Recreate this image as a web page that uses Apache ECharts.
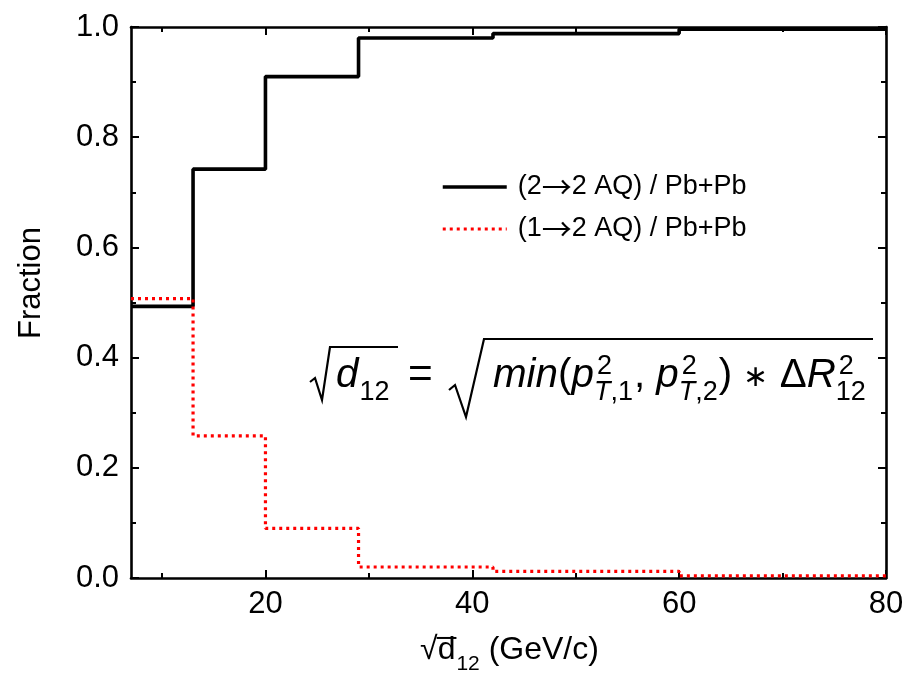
<!DOCTYPE html>
<html><head><meta charset="utf-8">
<script src="https://cdn.jsdelivr.net/npm/echarts@6/dist/echarts.min.js"></script>
<style>html,body{margin:0;padding:0;background:#fff}#c{width:907px;height:682px}</style>
</head><body><div id="c"></div>
<script>
// ---- data ----
const binEdges = [7, 13, 20, 29, 42, 60, 80];
const frac22 = [0.493, 0.742, 0.910, 0.980, 0.988, 0.996];
const frac12 = [0.507, 0.258, 0.090, 0.020, 0.012, 0.004];
const seriesNames = ['(2\u21922 AQ) / Pb+Pb', '(1\u21922 AQ) / Pb+Pb'];
const xMajorTicks = [20, 40, 60, 80];
const xMinorTicks = [10, 30, 50, 70];
const xRange = [7, 80];
const yRange = [0, 1];
const yInterval = 0.2;

function stepPoints(vals) {
  return binEdges.map((e, i) => [e, vals[Math.min(i, vals.length - 1)]]);
}

const FONT = '"Liberation Sans", Arial, sans-serif';
const ctx = document.createElement('canvas').getContext('2d');
function fnt(size, ital) { return (ital ? 'italic ' : '') + size + 'px ' + FONT; }
function tw(text, font) { ctx.font = font; return ctx.measureText(text).width; }
function txt(text, x, baseline, size, ital) {
  return { type: 'text', x: x, y: baseline - 0.35 * size, z: 50,
    style: { text: text, font: fnt(size, ital), fill: '#000', align: 'left', verticalAlign: 'middle',
             textAlign: 'left', textVerticalAlign: 'middle' } };
}

const graphics = [];
// ---- formula ----
(function () {
  const B = 390;
  const S0 = 31;
  function innerTokens(S) {
    const s = Math.round(S * 0.68);
    return [
      { t: 'min', i: true, S: S }, { t: '(', i: false, S: S }, { t: 'p', i: true, S: S },
      { stack: true, sup: '2', sub: [['T', true], [',1', false]], s: s, S: S },
      { t: ', ', i: false, S: S }, { t: 'p', i: true, S: S },
      { stack: true, sup: '2', sub: [['T', true], [',2', false]], s: s, S: S },
      { t: ') ', i: false, S: S }, { t: '\u2217', i: false, S: S * 0.75, dy: -0.05 * S }, { t: ' \u0394', i: false, S: S },
      { t: 'R', i: true, S: S },
      { stack: true, sup: '2', sub: [['12', false]], s: s, S: S }
    ];
  }
  function layout(tokens, x0, emit) {
    let x = x0;
    tokens.forEach(tk => {
      if (!tk.stack) {
        if (emit) graphics.push(txt(tk.t, x, B + (tk.dy || 0), tk.S, tk.i));
        x += tw(tk.t, fnt(tk.S, tk.i));
      } else {
        const supW = tw(tk.sup, fnt(tk.s, false));
        let subW = 0; let sx = x;
        tk.sub.forEach(p => {
          if (emit) graphics.push(txt(p[0], sx, B + 0.3 * tk.S, tk.s, p[1]));
          const ww = tw(p[0], fnt(tk.s, p[1])); sx += ww; subW += ww;
        });
        if (emit) graphics.push(txt(tk.sup, x + 3, B - 0.34 * tk.S, tk.s, false));
        x += Math.max(supW + 3, subW) + 1;
      }
    });
    return x - x0;
  }
  const W0 = layout(innerTokens(S0), 0, false);
  const S = S0 * 376 / W0;
  layout(innerTokens(S), 493, true);
  // left side
  graphics.push(txt('d', 336, B, S, true));
  graphics.push(txt('12', 336 + tw('d', fnt(S, true)) + 1, B + 0.3 * S, Math.round(S * 0.68), false));
  graphics.push(txt('=', 408, B, S * 1.05, false));
  graphics.push({ type: 'polyline', z: 50, shape: { points: [[310, 382], [315, 378], [322, 400], [330, 347], [398, 347]] },
    style: { stroke: '#000', lineWidth: 2.2, fill: null } });
  graphics.push({ type: 'polyline', z: 50, shape: { points: [[449, 390], [455, 385], [466, 417], [484, 339], [873, 339]] },
    style: { stroke: '#000', lineWidth: 2.2, fill: null } });
})();

// ---- x axis title ----
(function () {
  const S = 32, s = 21, B = 661;
  const wR = tw('\u221A', fnt(S)), wd = tw('d', fnt(S)), w12 = tw('12', fnt(s)), wRest = tw(' (GeV/c)', fnt(S));
  const total = wR + wd + w12 + wRest;
  let x = 509 - total / 2;
  graphics.push(txt('\u221A', x, B, S, false));
  const xd = x + wR;
  graphics.push({ type: 'line', z: 50, shape: { x1: xd - 1, y1: B - 0.72 * S, x2: xd + wd + 1, y2: B - 0.72 * S },
    style: { stroke: '#000', lineWidth: 2 } });
  graphics.push(txt('d', xd, B, S, false));
  graphics.push(txt('12', xd + wd + 1, B + 11, s, false));
  graphics.push(txt(' (GeV/c)', xd + wd + w12 + 1, B, S, false));
})();

// ---- y axis title ----
graphics.push({ type: 'text', x: 31, y: 283, rotation: Math.PI / 2, z: 50,
  style: { text: 'Fraction', font: fnt(31), fill: '#000', align: 'center', verticalAlign: 'middle',
           textAlign: 'center', textVerticalAlign: 'middle' } });

const gridRect = { left: 131, right: 21, top: 27, bottom: 104 };
const axisLineStyle = { color: '#000', width: 2.6 };
const tickLineStyle = { color: '#000', width: 2 };

function xAxisCfg(gridIndex, position, ticks, len, showLine, showLabel) {
  return {
    gridIndex: gridIndex, type: 'value', position: position, min: xRange[0], max: xRange[1],
    axisLine: { show: showLine, onZero: false, lineStyle: axisLineStyle },
    axisTick: { show: true, inside: true, length: len, customValues: ticks, lineStyle: tickLineStyle },
    axisLabel: { show: showLabel, customValues: ticks, fontSize: 31, fontFamily: FONT, color: '#000', margin: 11 },
    splitLine: { show: false }
  };
}
function yAxisCfg(position, showLabel) {
  return {
    gridIndex: 0, type: 'value', position: position, min: yRange[0], max: yRange[1], interval: yInterval,
    axisLine: { show: true, onZero: false, lineStyle: axisLineStyle },
    axisTick: { show: true, inside: true, length: 8, lineStyle: tickLineStyle },
    minorTick: { show: true, splitNumber: 2, length: 5, lineStyle: tickLineStyle },
    axisLabel: { show: showLabel, fontSize: 31, fontFamily: FONT, color: '#000', margin: 12,
                 formatter: v => v.toFixed(1) },
    splitLine: { show: false }, minorSplitLine: { show: false }
  };
}

const chart = echarts.init(document.getElementById('c'), null, { renderer: 'canvas' });
chart.setOption({
  animation: false,
  backgroundColor: '#fff',
  grid: [Object.assign({}, gridRect), Object.assign({}, gridRect)],
  xAxis: [
    xAxisCfg(0, 'bottom', xMajorTicks, 8, true, true),
    xAxisCfg(0, 'top', xMajorTicks, 8, true, false),
    xAxisCfg(1, 'bottom', xMinorTicks, 5, false, false),
    xAxisCfg(1, 'top', xMinorTicks, 5, false, false)
  ],
  yAxis: [
    yAxisCfg('left', true),
    yAxisCfg('right', false),
    { gridIndex: 1, type: 'value', min: yRange[0], max: yRange[1], show: false }
  ],
  legend: {
    orient: 'vertical', left: 441, top: 172, padding: 0, itemWidth: 64, itemHeight: 14, itemGap: 12,
    itemStyle: { color: 'transparent', borderWidth: 0, opacity: 0 },
    textStyle: { fontSize: 27, fontFamily: FONT, color: '#000', padding: [0, 0, 0, 6],
                 rich: { a: { fontSize: 30, fontFamily: '"Noto Sans CJK SC", "DejaVu Sans", sans-serif', color: '#000' } } },
    formatter: name => name.replace('\u2192', '{a|\u2192}'),
    data: [
      { name: seriesNames[0], lineStyle: { color: '#000', width: 3.5 } },
      { name: seriesNames[1], lineStyle: { color: '#ff0000', width: 3.2, type: [3, 4] } }
    ]
  },
  series: [
    { type: 'line', name: seriesNames[0], xAxisIndex: 0, yAxisIndex: 0, data: stepPoints(frac22), step: 'end',
      symbol: 'none', lineStyle: { color: '#000', width: 3.6 }, itemStyle: { color: '#000' }, z: 3 },
    { type: 'line', name: seriesNames[1], xAxisIndex: 0, yAxisIndex: 0, data: stepPoints(frac12), step: 'end',
      symbol: 'none', lineStyle: { color: '#ff0000', width: 3.2, type: [3, 4] }, itemStyle: { color: '#ff0000' }, z: 4 }
  ],
  graphic: graphics
});
</script></body></html>
